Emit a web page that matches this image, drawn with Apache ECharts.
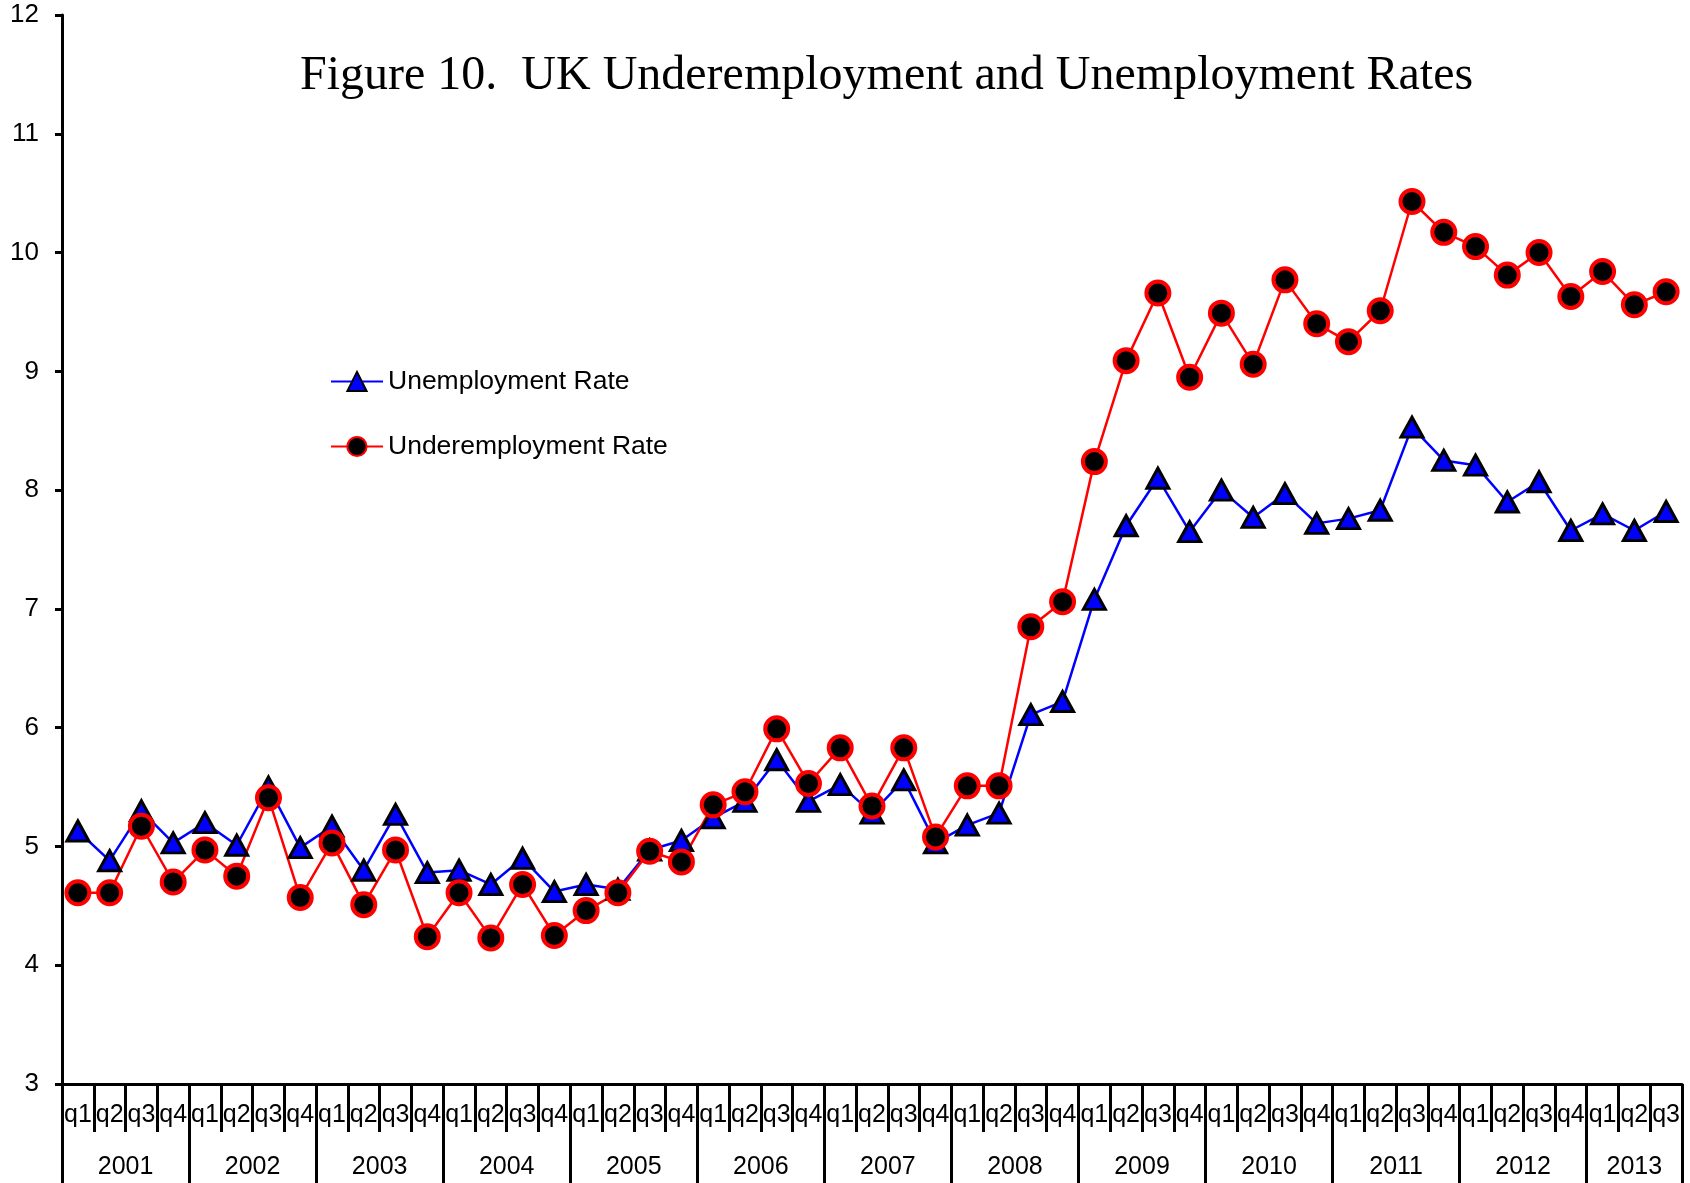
<!DOCTYPE html>
<html>
<head>
<meta charset="utf-8">
<script src="https://cdn.jsdelivr.net/npm/echarts@6/dist/echarts.min.js"></script>
<style>
html,body{margin:0;padding:0;background:#fff;}
#chart{width:1690px;height:1183px;}
</style>
</head>
<body>
<div id="chart"></div>
<script>
const years = ['2001','2002','2003','2004','2005','2006','2007','2008','2009','2010','2011','2012','2013'];
const quarterNames = ['q1','q2','q3','q4'];
const quartersPerYear = [4,4,4,4,4,4,4,4,4,4,4,4,3];
const yTicks = [3,4,5,6,7,8,9,10,11,12];

const unemploymentRate = [
  5.13,4.88,5.30,5.03,
  5.20,5.01,5.50,4.99,
  5.17,4.80,5.27,4.78,
  4.80,4.68,4.90,4.62,
  4.68,4.64,4.97,5.05,
  5.24,5.38,5.73,5.38,
  5.52,5.28,5.56,5.03,
  5.18,5.28,6.11,6.22,
  7.08,7.70,8.10,7.65,
  8.00,7.77,7.97,7.72,
  7.76,7.83,8.53,8.25,
  8.21,7.90,8.07,7.66,
  7.80,7.66,7.82
];
const underemploymentRate = [
  4.61,4.61,5.17,4.70,
  4.97,4.75,5.41,4.57,
  5.03,4.51,4.97,4.24,
  4.61,4.23,4.68,4.25,
  4.46,4.61,4.96,4.87,
  5.35,5.46,5.99,5.53,
  5.83,5.34,5.83,5.08,
  5.51,5.51,6.85,7.06,
  8.24,9.09,9.66,8.95,
  9.49,9.06,9.77,9.40,
  9.25,9.51,10.43,10.17,
  10.05,9.81,10.00,9.63,
  9.84,9.56,9.67
];

// build categories and year boundaries from the arrays
const categories = [];
const yearBounds = [0];
const yearCenters = {};
years.forEach((y, i) => {
  const start = categories.length;
  for (let q = 0; q < quartersPerYear[i]; q++) categories.push(y + ' ' + quarterNames[q]);
  yearBounds.push(categories.length);
  yearCenters[(start + categories.length) / 2] = y;
});
const yearCenterVals = Object.keys(yearCenters).map(Number);

const SANS = "'Liberation Sans', Arial, sans-serif";
const SERIF = "'Liberation Serif', 'Times New Roman', serif";

const chart = echarts.init(document.getElementById('chart'), null, {renderer: 'canvas'});
chart.setOption({
  animation: false,
  backgroundColor: '#ffffff',
  title: {
    text: 'Figure 10.  UK Underemployment and Unemployment Rates',
    left: 295,
    top: 47,
    textStyle: {fontFamily: SERIF, fontSize: 48, fontWeight: 'normal', color: '#000'}
  },
  legend: {
    orient: 'vertical',
    left: 325,
    top: 363,
    itemWidth: 52,
    itemHeight: 24,
    itemGap: 38,
    textStyle: {fontFamily: SANS, fontSize: 26.5, color: '#000'},
    data: ['Unemployment Rate', 'Underemployment Rate']
  },
  grid: {left: 62, right: 8, top: 15, bottom: 99, containLabel: false},
  xAxis: [
    {
      type: 'category',
      data: categories,
      boundaryGap: true,
      position: 'bottom',
      axisLine: {show: true, lineStyle: {color: '#000', width: 3}},
      axisTick: {show: true, interval: 0, length: 48, lineStyle: {color: '#000', width: 3}},
      axisLabel: {
        interval: 0, margin: 19, color: '#000', fontFamily: SANS, fontSize: 25,
        formatter: v => v.split(' ')[1]
      },
      splitLine: {show: false}
    },
    {
      type: 'value',
      min: 0,
      max: categories.length,
      position: 'bottom',
      axisLine: {show: false},
      axisTick: {show: true, customValues: yearBounds, length: 99, lineStyle: {color: '#000', width: 3}},
      axisLabel: {
        show: true, customValues: yearCenterVals, margin: 71, color: '#000', fontFamily: SANS, fontSize: 25,
        formatter: v => yearCenters[v] || ''
      },
      splitLine: {show: false}
    }
  ],
  yAxis: {
    type: 'value',
    min: yTicks[0],
    max: yTicks[yTicks.length - 1],
    interval: 1,
    axisLine: {show: true, lineStyle: {color: '#000', width: 3}},
    axisTick: {show: true, length: 7, lineStyle: {color: '#000', width: 3}},
    axisLabel: {margin: 23, color: '#000', fontFamily: SANS, fontSize: 26},
    splitLine: {show: false}
  },
  series: [
    {
      name: 'Unemployment Rate',
      type: 'line',
      xAxisIndex: 0,
      data: unemploymentRate,
      symbol: 'triangle',
      symbolSize: [22, 20],
      showAllSymbol: true,
      lineStyle: {color: '#0000ff', width: 2.5},
      itemStyle: {color: '#0000ff', borderColor: '#000', borderWidth: 3},
      emphasis: {disabled: true}
    },
    {
      name: 'Underemployment Rate',
      type: 'line',
      xAxisIndex: 0,
      data: underemploymentRate,
      symbol: 'circle',
      symbolSize: 23,
      showAllSymbol: true,
      lineStyle: {color: '#ff0000', width: 2.5},
      itemStyle: {color: '#000', borderColor: '#ff0000', borderWidth: 4},
      emphasis: {disabled: true}
    }
  ]
});
</script>
</body>
</html>
